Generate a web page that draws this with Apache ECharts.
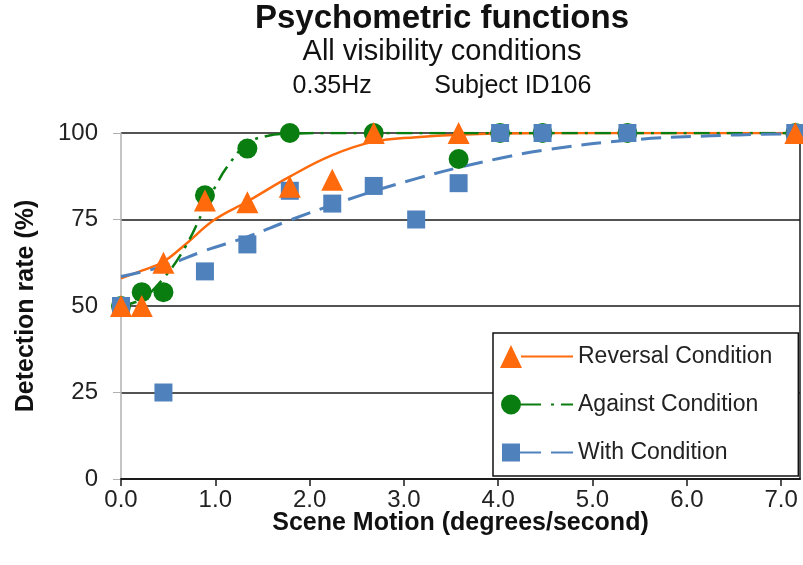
<!DOCTYPE html>
<html><head><meta charset="utf-8">
<script src="https://cdn.jsdelivr.net/npm/echarts@6/dist/echarts.min.js"></script>
<style>html,body{margin:0;padding:0;background:#fff}#c{width:803px;height:565px}</style>
</head><body><div id="c"></div>
<script>
// ---- data ----
const titleText = 'Psychometric functions';
const subtitleText = 'All visibility conditions';
const infoText = '0.35Hz         Subject ID106';
const xAxisName = 'Scene Motion (degrees/second)';
const yAxisName = 'Detection rate (%)';
const seriesNames = ['Reversal Condition', 'Against Condition', 'With Condition'];

const xTicks = [0, 1, 2, 3, 4, 5, 6, 7];
const yTicks = [0, 25, 50, 75, 100];

// measured points
const reversalX = [0, 0.22, 0.45, 0.89, 1.34, 1.79, 2.24, 2.68, 3.58, 7.15];
const reversalY = [50, 50, 62.5, 80.5, 80, 84.5, 86.5, 100, 100, 100];
const againstX = [0, 0.22, 0.45, 0.89, 1.34, 1.79, 2.68, 3.58, 4.02, 4.47, 5.37, 7.15];
const againstY = [50, 54, 54, 82, 95.5, 100, 100, 92.5, 100, 100, 100, 100];
const withX = [0, 0.45, 0.89, 1.34, 1.79, 2.24, 2.68, 3.13, 3.58, 4.02, 4.47, 5.37, 7.15];
const withY = [50, 25, 60, 67.8, 83.3, 79.6, 84.7, 75, 85.5, 100, 100, 100, 100];

// fitted curves
const reversalFitX = [0, 0.22, 0.45, 0.67, 0.99, 1.34, 1.79, 2.24, 2.68, 3.13, 3.58, 4.47, 5.37, 7.15];
const reversalFitY = [58, 60.2, 62.8, 67.5, 74.9, 80.2, 87.4, 93.6, 97.5, 98.8, 99.5, 100, 100, 100];
const againstFitX = [0, 0.22, 0.45, 0.67, 0.89, 1.01, 1.12, 1.34, 1.56, 1.79, 2.24, 7.15];
const againstFitY = [50, 52, 58, 66.5, 78.5, 85, 90, 97, 99.2, 99.8, 100, 100];
const withFitX = [0, 0.45, 0.89, 1.34, 1.79, 2.24, 2.68, 3.13, 3.58, 4.02, 4.47, 5.37, 6.26, 7.15];
const withFitY = [58.5, 61.5, 66, 70, 74.8, 79.2, 83.2, 86.8, 90, 92.7, 95, 97.9, 99.2, 99.8];

// ---- chart ----
const FONT = "'Liberation Sans', Arial, sans-serif";
const ORANGE = '#ff6a0d', GREEN = '#0a7d10', BLUE = '#4f81bd', INK = '#222';
const zip = (xs, ys) => xs.map((x, i) => [x, ys[i]]);

const iconRev = 'path://M0,23 L11,0 L22,23 Z M21,10.5 L73,10.5 L73,12.5 L21,12.5 Z';
const iconAg = 'path://M1,11.5 A10,10 0 1 1 21,11.5 A10,10 0 1 1 1,11.5 Z M20,10.5 L41,10.5 L41,12.5 L20,12.5 Z M51,10.5 L54,10.5 L54,12.5 L51,12.5 Z M61,10.5 L73,10.5 L73,12.5 L61,12.5 Z M0,0 L0.01,0 Z M0,23 L0.01,23 Z';
const iconWith = 'path://M2,2.5 L20,2.5 L20,20.5 L2,20.5 Z M20,10.5 L41,10.5 L41,12.5 L20,12.5 Z M51,10.5 L73,10.5 L73,12.5 L51,12.5 Z M0,0 L0.01,0 Z M0,23 L0.01,23 Z';

const chart = echarts.init(document.getElementById('c'), null, {renderer: 'canvas'});
chart.setOption({
  animation: false,
  backgroundColor: '#fff',
  textStyle: {fontFamily: FONT},
  title: [
    {text: titleText, left: 442, textAlign: 'center', top: 2, padding: 0,
     textStyle: {fontFamily: FONT, fontSize: 33, fontWeight: 'bold', color: '#111', lineHeight: 34}},
    {text: subtitleText, left: 442, textAlign: 'center', top: 37, padding: 0,
     textStyle: {fontFamily: FONT, fontSize: 29, fontWeight: 'normal', color: '#111', lineHeight: 30}},
    {text: infoText, left: 442, textAlign: 'center', top: 73, padding: 0,
     textStyle: {fontFamily: FONT, fontSize: 25, fontWeight: 'normal', color: '#111', lineHeight: 26}}
  ],
  grid: {left: 121, right: 3, top: 133, bottom: 86, containLabel: false},
  legend: {
    orient: 'vertical', left: 493, top: 333,
    padding: [12, 26, 12, 7], itemWidth: 73, itemHeight: 23, itemGap: 25,
    backgroundColor: '#fff', borderColor: '#111', borderWidth: 1.5, borderRadius: 0,
    selectedMode: false,
    textStyle: {fontFamily: FONT, fontSize: 23, color: INK},
    data: [
      {name: seriesNames[0], icon: iconRev, itemStyle: {color: ORANGE, opacity: 1}},
      {name: seriesNames[1], icon: iconAg, itemStyle: {color: GREEN, opacity: 1}},
      {name: seriesNames[2], icon: iconWith, itemStyle: {color: BLUE, opacity: 1}}
    ]
  },
  xAxis: {
    type: 'value', min: xTicks[0], max: 7.2, interval: 1,
    name: xAxisName, nameLocation: 'middle', nameGap: 32, nameMoveOverlap: false,
    nameTextStyle: {fontFamily: FONT, fontSize: 25, fontWeight: 'bold', color: '#111'},
    axisLine: {show: true, onZero: false, lineStyle: {color: '#1a1a1a', width: 2}},
    axisTick: {show: true, length: 7, lineStyle: {color: '#1a1a1a', width: 1.5}},
    axisLabel: {fontFamily: FONT, fontSize: 24, color: INK, margin: 9, showMaxLabel: false,
      formatter: v => xTicks.indexOf(v) >= 0 ? v.toFixed(1) : ''},
    splitLine: {show: false}
  },
  yAxis: [{
    type: 'value', min: yTicks[0], max: yTicks[yTicks.length - 1], interval: 25,
    name: yAxisName, nameLocation: 'middle', nameGap: 82,
    nameTextStyle: {fontFamily: FONT, fontSize: 25, fontWeight: 'bold', color: '#111'},
    axisLine: {show: true, lineStyle: {color: '#b0b0b0', width: 1.5}},
    axisTick: {show: true, length: 8, lineStyle: {color: '#b0b0b0', width: 1}},
    axisLabel: {fontFamily: FONT, fontSize: 24, color: INK, margin: 23},
    splitLine: {show: true, lineStyle: {color: '#1a1a1a', width: 1.5}}
  }, {
    type: 'value', position: 'right', min: 0, max: 100,
    axisLine: {show: true, lineStyle: {color: '#1a1a1a', width: 1.5}},
    axisTick: {show: false}, axisLabel: {show: false}, splitLine: {show: false}
  }],
  series: [
    {name: 'Reversal fit', type: 'line', data: zip(reversalFitX, reversalFitY), smooth: 0.4,
     showSymbol: false, symbol: 'none', z: 2, silent: true,
     lineStyle: {color: ORANGE, width: 2.5, type: 'solid'}},
    {name: 'Against fit', type: 'line', data: zip(againstFitX, againstFitY), smooth: 0.4,
     showSymbol: false, symbol: 'none', z: 2, silent: true,
     lineStyle: {color: GREEN, width: 2.5, type: [16, 7, 3, 7]}},
    {name: 'With fit', type: 'line', data: zip(withFitX, withFitY), smooth: 0.4,
     showSymbol: false, symbol: 'none', z: 2, silent: true,
     lineStyle: {color: BLUE, width: 3, type: [20, 10]}},
    {name: seriesNames[1], type: 'scatter', data: zip(againstX, againstY), symbol: 'circle',
     symbolSize: 20, z: 3, itemStyle: {color: GREEN, opacity: 1}},
    {name: seriesNames[2], type: 'scatter', data: zip(withX, withY), symbol: 'rect',
     symbolSize: 18, z: 4, itemStyle: {color: BLUE, opacity: 1}},
    {name: seriesNames[0], type: 'scatter', data: zip(reversalX, reversalY), symbol: 'triangle',
     symbolSize: [22, 22], z: 5, itemStyle: {color: ORANGE, opacity: 1}}
  ]
});
</script>
</body></html>
